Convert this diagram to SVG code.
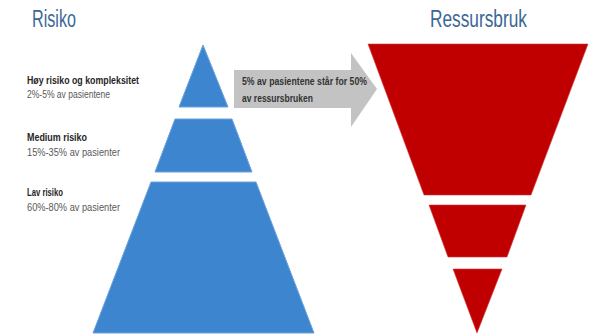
<svg xmlns="http://www.w3.org/2000/svg" width="598" height="335" viewBox="0 0 598 335">
<style>
.title{font-family:"Liberation Sans",Arial,sans-serif;font-size:23px;fill:#3b6795}
.lbl{font-family:"Liberation Sans",Arial,sans-serif;font-size:11px;font-weight:bold;fill:#262626}
.sub{font-family:"Liberation Sans",Arial,sans-serif;font-size:11px;fill:#595959}
.arr{font-family:"Liberation Sans",Arial,sans-serif;font-size:11px;font-weight:bold;fill:#333333}
.blue{fill:#3e85d0;stroke:#6aa2dc;stroke-width:1}
.red{fill:#c00000;stroke:#d23a3a;stroke-width:0.6}
</style>
<rect width="598" height="335" fill="#ffffff"/>
<g id="title-risiko"><text class="title" x="32" y="27" textLength="44" lengthAdjust="spacingAndGlyphs">Risiko</text></g>
<g id="title-ressursbruk"><text class="title" x="430" y="27" textLength="97" lengthAdjust="spacingAndGlyphs">Ressursbruk</text></g>
<g id="label-hoy">
<text class="lbl" x="27" y="84" textLength="112" lengthAdjust="spacingAndGlyphs">Høy risiko og kompleksitet</text>
<text class="sub" x="27" y="98" textLength="83" lengthAdjust="spacingAndGlyphs">2%-5% av pasientene</text>
</g>
<g id="label-medium">
<text class="lbl" x="27" y="141" textLength="60" lengthAdjust="spacingAndGlyphs">Medium risiko</text>
<text class="sub" x="27" y="156" textLength="93" lengthAdjust="spacingAndGlyphs">15%-35% av pasienter</text>
</g>
<g id="label-lav">
<text class="lbl" x="27" y="196" textLength="36" lengthAdjust="spacingAndGlyphs">Lav risiko</text>
<text class="sub" x="27" y="211" textLength="93" lengthAdjust="spacingAndGlyphs">60%-80% av pasienter</text>
</g>
<g id="pyramid-risk">
<polygon class="blue" points="203,45 228,107 179,107"/>
<polygon class="blue" points="175,119 232,119 252,172 155,172"/>
<polygon class="blue" points="151,182 256,182 314,333 93,333"/>
</g>
<g id="pyramid-resources">
<polygon class="red" points="368,44 588,44 531,195 424,195"/>
<polygon class="red" points="429,205 526,205 507,257 448,257"/>
<polygon class="red" points="453,269 502,269 477,333"/>
</g>
<g id="connectors">
<polygon points="234,70 351,70 351,53 377,89 351,127 351,108 234,108" fill="#c3c3c3"/>
<text class="arr" x="242" y="85" textLength="125" lengthAdjust="spacingAndGlyphs">5% av pasientene står for 50%</text>
<text class="arr" x="242" y="102" textLength="71" lengthAdjust="spacingAndGlyphs">av ressursbruken</text>
</g>
</svg>
